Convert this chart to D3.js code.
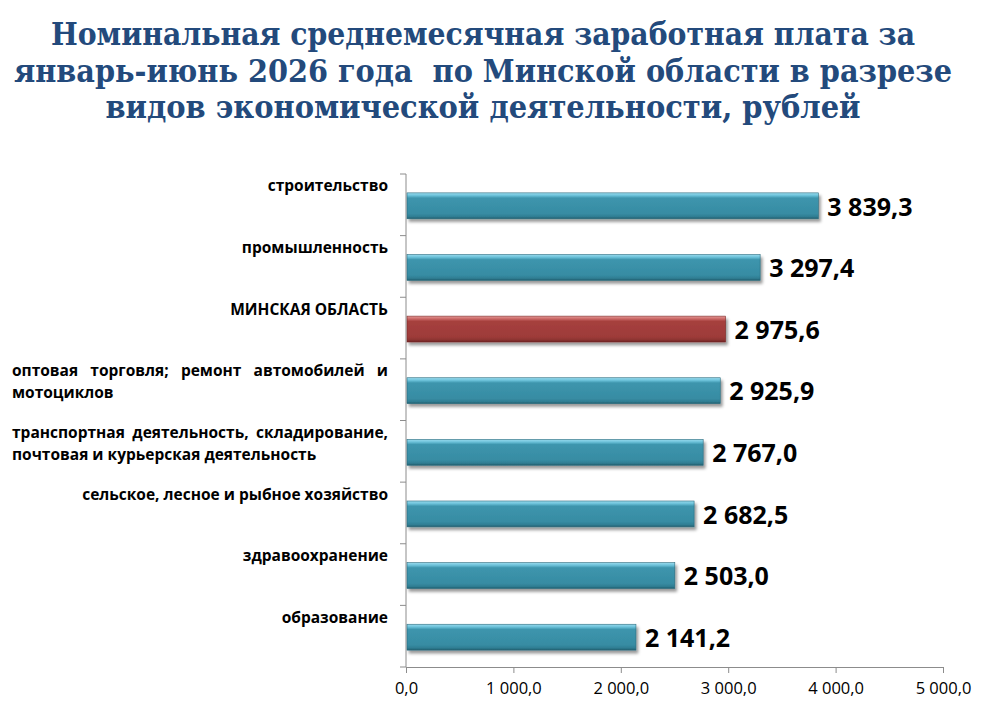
<!DOCTYPE html>
<html>
<head>
<meta charset="utf-8">
<script src="https://cdn.jsdelivr.net/npm/d3@7"></script>
<style>
  body { margin: 0; background: #fff; }
  svg { display: block; font-family: "Open Sans", sans-serif; }
  .title { white-space: pre; }
</style>
</head>
<body>
<div id="chart"></div>
<script>
const titleLines = [
  "Номинальная среднемесячная заработная плата за",
  "январь-июнь 2026 года  по Минской области в разрезе",
  "видов экономической деятельности, рублей"
]

const categories = [
  "строительство",
  "промышленность",
  "МИНСКАЯ ОБЛАСТЬ",
  "оптовая торговля; ремонт автомобилей и мотоциклов",
  "транспортная деятельность, складирование, почтовая и курьерская деятельность",
  "сельское, лесное и рыбное хозяйство",
  "здравоохранение",
  "образование"
]

const values = [3839.3, 3297.4, 2975.6, 2925.9, 2767.0, 2682.5, 2503.0, 2141.2]

const highlight = "МИНСКАЯ ОБЛАСТЬ"

const xTicks = [0, 1000, 2000, 3000, 4000, 5000]

const width = 986
const height = 725
const margin = {top: 174, right: 43, bottom: 58, left: 406}

const ru = d3.formatLocale({decimal: ",", thousands: "\u00a0", grouping: [3], currency: ["", ""]})
const fmt = ru.format(",.1f")

const svg = d3.select("#chart").append("svg")
  .attr("width", width)
  .attr("height", height)
  .attr("viewBox", [0, 0, width, height])

const defs = svg.append("defs")

function barGradient(id, stops) {
  const g = defs.append("linearGradient")
    .attr("id", id)
    .attr("x1", 0).attr("y1", 0).attr("x2", 0).attr("y2", 1)
  stops.forEach(([o, c]) => g.append("stop").attr("offset", o).attr("stop-color", c))
}

barGradient("teal", [[0, "#9adbee"], [0.1, "#6cc2da"], [0.2, "#3d95ad"], [0.8, "#378ca3"], [0.92, "#2f7d92"], [1, "#215d6d"]])
barGradient("red", [[0, "#e49a98"], [0.1, "#cc6a68"], [0.2, "#a6403e"], [0.8, "#9e3b39"], [0.92, "#8c3331"], [1, "#6a2221"]])

const shadow = defs.append("filter").attr("id", "shadow")
  .attr("x", "-5%").attr("y", "-30%").attr("width", "115%").attr("height", "190%")
shadow.append("feDropShadow")
  .attr("dx", 2).attr("dy", 3)
  .attr("stdDeviation", 1.8)
  .attr("flood-color", "#000")
  .attr("flood-opacity", 0.4)

// title
svg.append("g")
  .selectAll("text")
  .data(titleLines)
  .join("text")
    .attr("class", "title")
    .attr("x", 483)
    .attr("y", (d, i) => 45 + i * 36.5)
    .attr("text-anchor", "middle")
    .attr("font-family", "'DejaVu Serif Condensed', 'DejaVu Serif', serif")
    .attr("font-weight", "bold")
    .attr("font-size", 31)
    .attr("fill", "#234a7c")
    .attr("textLength", (d, i) => [864, 938, 755][i])
    .attr("lengthAdjust", "spacingAndGlyphs")
    .text(d => d)

const x = d3.scaleLinear()
  .domain([0, 5000])
  .range([margin.left, width - margin.right])

const y = d3.scaleBand()
  .domain(categories)
  .range([margin.top, height - margin.bottom])
  .paddingInner(0.58)
  .paddingOuter(0.29)

const axisColor = "#8c8c8c"

// x axis
svg.append("g")
  .attr("transform", `translate(0, ${height - margin.bottom})`)
  .call(d3.axisBottom(x).tickValues(xTicks).tickFormat(fmt).tickSize(6).tickSizeOuter(0))
  .call(g => g.select(".domain").attr("stroke", axisColor))
  .call(g => g.selectAll(".tick line").attr("stroke", axisColor))
  .call(g => g.selectAll(".tick text")
    .attr("dy", "1.1em")
    .attr("fill", "#000")
    .attr("font-family", "'Open Sans', sans-serif")
    .attr("font-size", 16.5))

// y axis line with ticks at band boundaries
const step = y.step()
const bounds = d3.range(categories.length + 1).map(i => margin.top + i * step)
const yAxis = svg.append("g")
yAxis.append("line")
  .attr("x1", margin.left).attr("x2", margin.left)
  .attr("y1", margin.top).attr("y2", height - margin.bottom)
  .attr("stroke", axisColor)
yAxis.selectAll(".btick")
  .data(bounds)
  .join("line")
    .attr("class", "btick")
    .attr("x1", margin.left - 6).attr("x2", margin.left)
    .attr("y1", d => d).attr("y2", d => d)
    .attr("stroke", axisColor)

// bars
svg.append("g")
  .selectAll("rect")
  .data(categories)
  .join("rect")
    .attr("x", x(0) + 1)
    .attr("y", d => y(d) + 1)
    .attr("width", (d, i) => x(values[i]) - x(0) - 1)
    .attr("height", y.bandwidth())
    .attr("fill", d => d === highlight ? "url(#red)" : "url(#teal)")
    .attr("stroke", d => d === highlight ? "#7a2a29" : "#2a6a7c")
    .attr("stroke-width", 0.6)
    .attr("filter", "url(#shadow)")

// value labels
svg.append("g")
  .selectAll("text")
  .data(categories)
  .join("text")
    .attr("x", (d, i) => x(values[i]) + 9)
    .attr("y", d => y(d) + y.bandwidth() / 2 + 2)
    .attr("dy", "0.35em")
    .attr("font-size", 25)
    .attr("font-weight", "bold")
    .attr("fill", "#000")
    .text((d, i) => fmt(values[i]))

// category labels: wrapped, justified when more than one line
const labelRight = margin.left - 18
const labelLeft = 12
const labelWidth = labelRight - labelLeft
const lineHeight = 22

const labels = svg.append("g")
  .attr("font-size", 15.5)
  .attr("font-weight", "bold")
  .attr("fill", "#000")

function measure(text) {
  const t = labels.append("text").text(text)
  const w = t.node().getComputedTextLength()
  t.remove()
  return w
}

categories.forEach((cat, ci) => {
  const words = cat.split(" ")
  const lines = []
  let cur = []
  words.forEach(w => {
    const test = cur.concat(w).join(" ")
    if (cur.length && measure(test) > labelWidth) {
      lines.push(cur)
      cur = [w]
    } else {
      cur.push(w)
    }
  })
  lines.push(cur)

  const top = margin.top + ci * step + 12
  if (lines.length === 1) {
    labels.append("text")
      .attr("x", labelRight)
      .attr("y", top)
      .attr("dy", "0.35em")
      .attr("text-anchor", "end")
      .text(cat)
    return
  }
  lines.forEach((ws, li) => {
    const ly = top + li * lineHeight
    if (li === lines.length - 1) {
      labels.append("text")
        .attr("x", labelLeft).attr("y", ly).attr("dy", "0.35em")
        .text(ws.join(" "))
      return
    }
    const widths = ws.map(measure)
    const gap = (labelWidth - d3.sum(widths)) / (ws.length - 1)
    let cx = labelLeft
    ws.forEach((w, wi) => {
      labels.append("text")
        .attr("x", cx).attr("y", ly).attr("dy", "0.35em")
        .text(w)
      cx += widths[wi] + gap
    })
  })
})
</script>
</body>
</html>
